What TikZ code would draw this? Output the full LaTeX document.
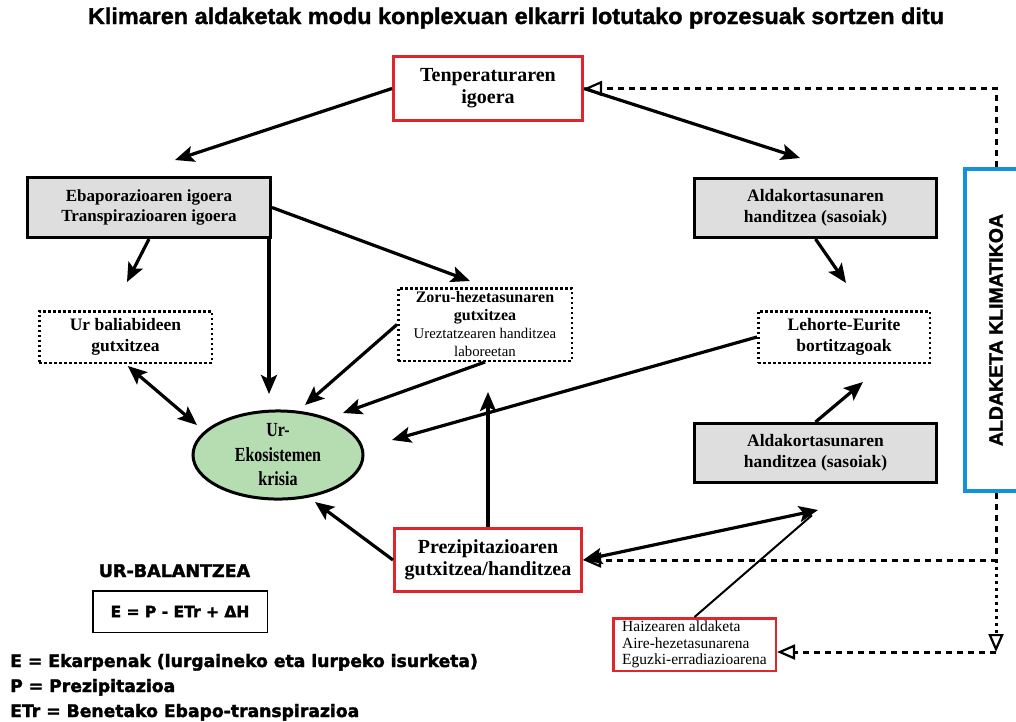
\documentclass[tikz,border=0pt]{standalone}
\usepackage{fontspec}
\usepackage{graphicx}
\setmainfont{Liberation Serif}
\newfontfamily\narrowserif[FakeStretch=0.8]{Liberation Serif}
\newfontfamily\headsans[BoldFeatures={FakeBold=1.5}]{Liberation Sans}
\newfontfamily\balancefont[BoldFeatures={FakeBold=2}]{DejaVu Sans}
\usetikzlibrary{arrows.meta,shapes.geometric}

\definecolor{boxred}{RGB}{224,38,42}
\definecolor{boxgray}{RGB}{222,222,222}
\definecolor{ekogreen}{RGB}{182,220,178}
\definecolor{climablue}{RGB}{20,145,220}

\tikzset{
  redbox/.style={draw=boxred, line width=3pt, inner sep=0pt, align=center,
    font=\bfseries\fontsize{20}{22}\selectfont},
  graybox/.style={draw, line width=3pt, fill=boxgray, inner sep=0pt, align=center,
    minimum width=242pt, minimum height=59pt, font=\bfseries\fontsize{17.5}{21}\selectfont},
  dotbox/.style={draw, line width=2.5pt, dash pattern=on 2.5pt off 2.5pt, inner sep=0pt,
    align=center, font=\bfseries\fontsize{17.5}{21}\selectfont},
  arr/.style={line width=3.2pt, -{Stealth[length=19pt,width=16pt,inset=4pt]}},
  dblarr/.style={line width=3.2pt, {Stealth[length=19pt,width=16pt,inset=4pt]}-{Stealth[length=19pt,width=16pt,inset=4pt]}},
  dline/.style={line width=3pt, dash pattern=on 6pt off 5pt,
    -{Triangle[open,length=18pt,width=15pt,line width=2.2pt]}},
  dotline/.style={line width=3pt, dash pattern=on 3pt off 4pt,
    -{Triangle[open,length=18pt,width=15pt,line width=2.2pt]}},
  legend/.style={anchor=base west, inner sep=0pt, font=\balancefont\bfseries\fontsize{17.2}{20}\selectfont}
}

\begin{document}
\begin{tikzpicture}[x=1pt,y=-1pt]
\useasboundingbox (0,0) rectangle (1016,721);

% Title
\node[anchor=base, inner sep=0pt] (title) at (516,24) {\resizebox{856pt}{16.5pt}{\headsans\bfseries Klimaren aldaketak modu konplexuan elkarri lotutako prozesuak sortzen ditu}};

% Boxes
\node[redbox, minimum width=189pt, minimum height=64pt] (temp) at (488,88.5) {Tenperaturaren\\igoera};
\node[graybox, minimum width=243pt, minimum height=60pt, font=\bfseries\fontsize{17}{20}\selectfont] (ebap) at (149,207.5) {Ebaporazioaren igoera\\Transpirazioaren igoera};
\node[graybox] (aldak1) at (815.5,208) {Aldakortasunaren\\handitzea (sasoiak)};
\node[graybox] (aldak2) at (815.5,453) {Aldakortasunaren\\handitzea (sasoiak)};
\node[dotbox, minimum width=172.5pt, minimum height=51.5pt] (ur) at (125.5,337) {Ur baliabideen\\gutxitzea};
\node[dotbox, minimum width=173.5pt, minimum height=72.5pt, font=\bfseries\fontsize{16}{18}\selectfont] (zoru) at (485,324.5)
  {Zoru-hezetasunaren\\gutxitzea\\{\normalfont\fontsize{14.8}{15.5}\selectfont Ureztatzearen handitzea}\\{\normalfont\fontsize{14.8}{15.5}\selectfont laboreetan}};
\node[dotbox, minimum width=171.5pt, minimum height=51.5pt] (lehorte) at (844,337) {Lehorte-Eurite\\bortitzagoak};
\node[ellipse, draw, line width=3pt, fill=ekogreen, minimum width=170pt, minimum height=81pt, inner sep=0pt, align=center,
  font=\narrowserif\bfseries\fontsize{20}{24.5}\selectfont] (eko) at (278,455) {Ur-\\Ekosistemen\\krisia};
\node[redbox, minimum width=187pt, minimum height=63pt] (prez) at (488,560) {Prezipitazioaren\\gutxitzea/handitzea};
\node[draw=boxred, line width=2.5pt, minimum width=162.5pt, minimum height=52.5pt, inner sep=0pt, align=left,
  font=\fontsize{15.5}{16.5}\selectfont] (haize) at (694.5,644.5) {Haizearen aldaketa\\Aire-hezetasunarena\\Eguzki-erradiazioarena};
\node[draw=climablue, line width=4pt, minimum width=62pt, minimum height=322pt, inner sep=0pt] (clima) at (996,330)
  {\rotatebox{90}{\headsans\bfseries\fontsize{19.5}{20}\selectfont ALDAKETA KLIMATIKOA}};

% Water balance
\node[anchor=base, inner sep=0pt, font=\balancefont\bfseries\fontsize{17.5}{20}\selectfont] (baltitle) at (174.5,577) {UR-BALANTZEA};
\node[draw, line width=1.5pt, minimum width=174.5pt, minimum height=41.5pt, inner sep=0pt,
  font=\balancefont\bfseries\fontsize{15.5}{18}\selectfont] (formula) at (180,611.5) {E = P - ETr + Δ{}H};
\node[legend] (legE) at (10,667) {E = Ekarpenak (lurgaineko eta lurpeko isurketa)};
\node[legend] (legP) at (10,692) {P = Prezipitazioa};
\node[legend] (legT) at (10,717) {ETr = Benetako Ebapo-transpirazioa};

% Arrow ends
\coordinate (ebapIn) at (175,160);
\coordinate (aldakIn) at (800,158);
\coordinate (urIn) at (127,282);
\coordinate (zoruIn) at (470,281);
\coordinate (ekoTop) at (269,394);
\coordinate (ekoA) at (305,405);
\coordinate (ekoB) at (343,413);
\coordinate (ekoC) at (392,440);
\coordinate (ekoD) at (315,502);
\coordinate (ekoE) at (197,425);
\coordinate (lehIn1) at (846,283);
\coordinate (lehIn2) at (863,382);
\coordinate (prezUp) at (488,392);
\coordinate (windIn) at (818,510);
\coordinate (cturn) at (996,652);

% Connections
\draw[arr] (temp.west) -- (ebapIn);
\draw[arr] (temp.east) -- (aldakIn);
\draw[arr] (ebap.south) -- (urIn);
\draw[arr] (ekoTop |- ebap.south) -- (ekoTop);
\draw[arr] (ebap.east) -- (zoruIn);
\draw[arr] (zoru.west) -- (ekoA);
\draw[arr] (zoru.south) -- (ekoB);
\draw[dblarr, shorten <=3pt] (ur.south) -- (ekoE);
\draw[arr] (lehorte.west) -- (ekoC);
\draw[arr] (aldak1.south) -- (lehIn1);
\draw[arr] (aldak2.north) -- (lehIn2);
\draw[arr] (prez.west) -- (ekoD);
\draw[arr] (prez.north) -- (prezUp);
\draw[line width=2pt, shorten >=8pt] (haize.north) -- (windIn);
\draw[dblarr] (prez.east) -- (windIn);

% Climate change links
\draw[dline] (clima.north) |- (temp.east);
\draw[dline] (clima.south) |- (prez.east);
\draw[dotline] (clima.south |- prez.east) -- (cturn);
\draw[dline] (cturn) -- (cturn -| haize.east);
\end{tikzpicture}
\end{document}
